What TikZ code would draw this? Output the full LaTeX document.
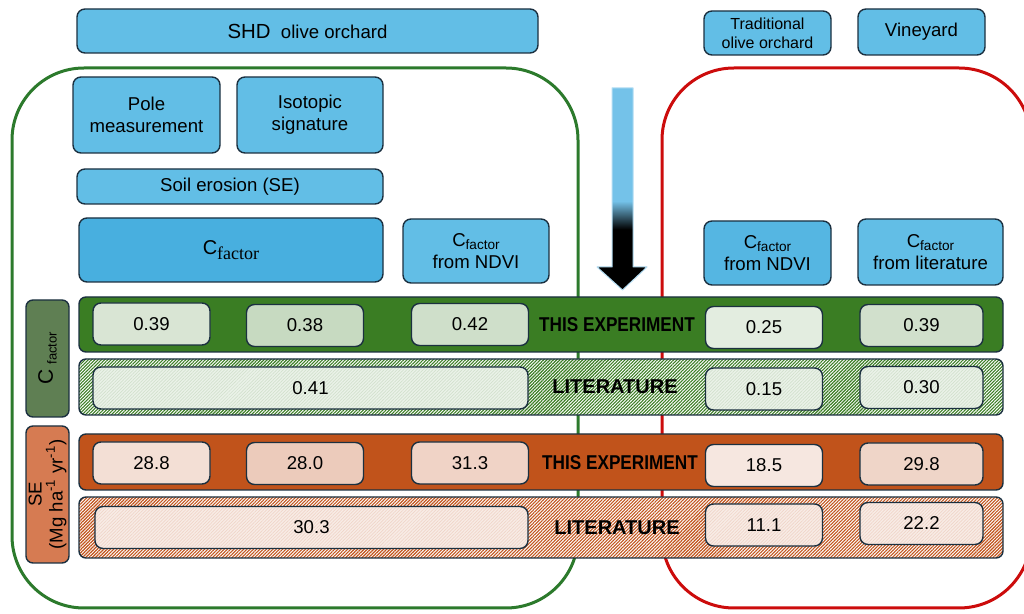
\documentclass[tikz,border=0pt]{standalone}
\usepackage{fontspec,graphicx}
\setmainfont{Liberation Sans}
\newfontfamily\subserif{Liberation Serif}
\usetikzlibrary{patterns.meta}

\definecolor{edge}{HTML}{1B3040}
\definecolor{boxblue}{HTML}{62BEE6}
\definecolor{boxdeep}{HTML}{48AFDF}
\definecolor{boxmid}{HTML}{55B6E2}
\definecolor{framegreen}{HTML}{2C7A2C}
\definecolor{framered}{HTML}{CC0C0C}
\definecolor{bandgreen}{HTML}{3A7D23}
\definecolor{bandorange}{HTML}{C1531B}
\definecolor{lblgreen}{HTML}{5F7F53}
\definecolor{lblorange}{HTML}{D67B52}
\definecolor{arrowblue}{HTML}{74C2E9}
\definecolor{gA}{HTML}{D9E5D4}
\definecolor{gB}{HTML}{C7DAC1}
\definecolor{gC}{HTML}{CFDFCA}
\definecolor{gD}{HTML}{E3EDE0}
\definecolor{gE}{HTML}{D1E0CC}
\definecolor{oA}{HTML}{F3DFD5}
\definecolor{oB}{HTML}{ECCBBB}
\definecolor{oC}{HTML}{F0D3C6}
\definecolor{oD}{HTML}{F6E7E0}
\definecolor{oE}{HTML}{EFD5C8}
\pgfdeclareverticalshading{arrowfade}{100bp}{color(0bp)=(black); color(40bp)=(black); color(47bp)=(arrowblue); color(100bp)=(arrowblue)}

\newcommand{\cfac}{C\raisebox{-0.35ex}{\fontsize{6.8}{7}\selectfont factor}}

\begin{document}
\begin{tikzpicture}[x=0.5pt,y=-0.5pt,line join=round,
    box/.style={draw=edge,line width=0.7pt,rounded corners=4pt,fill=boxblue,align=center,inner sep=0pt,font=\fontsize{9.3}{11}\selectfont},
    band/.style={draw=edge,line width=0.7pt,rounded corners=3.5pt,inner sep=0pt,minimum width=462pt},
    val/.style={draw=edge,line width=0.7pt,rounded corners=4pt,inner sep=0pt,minimum width=58.5pt,minimum height=21pt,font=\fontsize{9.3}{11}\selectfont},
    tag/.style={inner sep=0pt,font=\bfseries\fontsize{10}{12}\selectfont},
    lbl/.style={draw=edge,line width=0.7pt,rounded corners=3.5pt,inner sep=0pt,rotate=90,minimum height=21.5pt,align=center,font=\fontsize{9.3}{10.5}\selectfont},
    frame/.style={line width=1.5pt,rounded corners=36pt},
    hatchgreen/.style={preaction={fill=white},pattern={Lines[angle=45,distance=1.15pt,line width=0.55pt]},pattern color=bandgreen},
    hatchorange/.style={preaction={fill=white},pattern={Lines[angle=45,distance=1.15pt,line width=0.55pt]},pattern color=bandorange},
    softgreen/.style={preaction={fill=gD!70!white},pattern={Lines[angle=45,distance=1.15pt,line width=0.35pt]},pattern color=gB!80!white},
    softorange/.style={preaction={fill=oD!80!white},pattern={Lines[angle=45,distance=1.15pt,line width=0.35pt]},pattern color=oB!80!white}]
    \useasboundingbox (0,0) rectangle (1024,614);
    \clip (0,0) rectangle (1024,614);

    % frames behind everything
    \draw [frame,draw=framegreen] (12,68) rectangle (578,608);
    \draw [frame,draw=framered] (662,68) rectangle (1031,608);

    % headers
    \node [box,minimum width=230.5pt,minimum height=22pt] (shd) at (307.5,31) {{\fontsize{10.2}{12}\selectfont SHD}\ \ olive orchard};
    \node [box,minimum width=63.5pt,minimum height=22pt,font=\fontsize{8}{9.5}\selectfont] (trad) at (767.5,33) {Traditional\\olive orchard};
    \node [box,minimum width=63.5pt,minimum height=23pt] (vine) at (921.5,32) {Vineyard};

    % methods
    \node [box,minimum width=73.5pt,minimum height=38pt] (pole) at (146.5,115) {Pole\\measurement};
    \node [box,minimum width=73pt,minimum height=38pt] (iso) at (310,115) {Isotopic\\signature};
    \node [box,minimum width=153pt,minimum height=17.5pt] (soil) at (230,186.5) {Soil erosion (SE)};
    \node [box,fill=boxdeep,minimum width=152pt,minimum height=32pt] (cbig) at (231,250) {{\fontsize{10}{12}\selectfont C}\raisebox{-0.45ex}{\subserif\fontsize{9}{10}\selectfont factor}};
    \node [box,minimum width=73pt,minimum height=32pt] (cndvi) at (476,251) {\cfac\\from NDVI};
    \node [box,fill=boxmid,minimum width=63.5pt,minimum height=32pt] (cndvir) at (767.5,253) {\cfac\\from NDVI};
    \node [box,minimum width=72.5pt,minimum height=33pt] (clit) at (930.5,252) {\cfac\\from literature};

    % downward arrow
    \shade [shading=arrowfade,draw=arrowblue!55!white,line width=0.5pt] (612,88) -- (633,88) -- (633,267) -- (647,267) -- (622.5,290) -- (597,267) -- (612,267) -- cycle;

    % side labels
    \node [lbl,fill=lblgreen,minimum width=58.5pt] (lblc) at (47.5,358.5) {{\fontsize{10.5}{12}\selectfont C}\ \raisebox{-0.4ex}{\fontsize{6.5}{7}\selectfont factor}};
    \node [lbl,fill=lblorange,minimum width=68.5pt] (lblse) at (47.5,494.5) {SE\\(Mg ha\textsuperscript{-1} yr\textsuperscript{-1})};

    % bands
    \node [band,fill=bandgreen,minimum height=27.5pt] (r1) at (541,324.5) {};
    \node [band,hatchgreen,minimum height=28pt] (r2) at (541,387) {};
    \node [band,fill=bandorange,minimum height=28pt] (r3) at (541,462) {};
    \node [band,hatchorange,minimum height=30.5pt] (r4) at (541,527.5) {};

    % C factor, this experiment
    \node [val,fill=gA] (ce1) at (151.5,324) {0.39};
    \node [val,fill=gB] (ce2) at (305,325.5) {0.38};
    \node [val,fill=gC] (ce3) at (470,324.5) {0.42};
    \node [val,fill=gD] (ce4) at (764,327.5) {0.25};
    \node [val,fill=gE,minimum width=61.5pt] (ce5) at (921.5,325.5) {0.39};
    \node [tag] (cetag) at (617,325) {\scalebox{0.86}[1]{THIS EXPERIMENT}};

    % C factor, literature
    \node [val,softgreen,minimum width=217.5pt] (cl1) at (310.5,388) {0.41};
    \node [val,softgreen] (cl4) at (764,389) {0.15};
    \node [val,softgreen,minimum width=61.5pt] (cl5) at (921.5,387.5) {0.30};
    \node [tag] (cltag) at (615,387) {LITERATURE};

    % soil erosion, this experiment
    \node [val,fill=oA] (se1) at (151.5,463) {28.8};
    \node [val,fill=oB] (se2) at (305,463.5) {28.0};
    \node [val,fill=oC] (se3) at (470,463) {31.3};
    \node [val,fill=oD] (se4) at (764,465.5) {18.5};
    \node [val,fill=oE,minimum width=61.5pt] (se5) at (921.5,464) {29.8};
    \node [tag] (setag) at (620,463) {\scalebox{0.86}[1]{THIS EXPERIMENT}};

    % soil erosion, literature
    \node [val,softorange,minimum width=216.5pt] (sl1) at (311.5,527.5) {30.3};
    \node [val,softorange] (sl4) at (764,525) {11.1};
    \node [val,softorange,minimum width=61.5pt] (sl5) at (921.5,523.5) {22.2};
    \node [tag] (sltag) at (617,528) {LITERATURE};
\end{tikzpicture}
\end{document}
